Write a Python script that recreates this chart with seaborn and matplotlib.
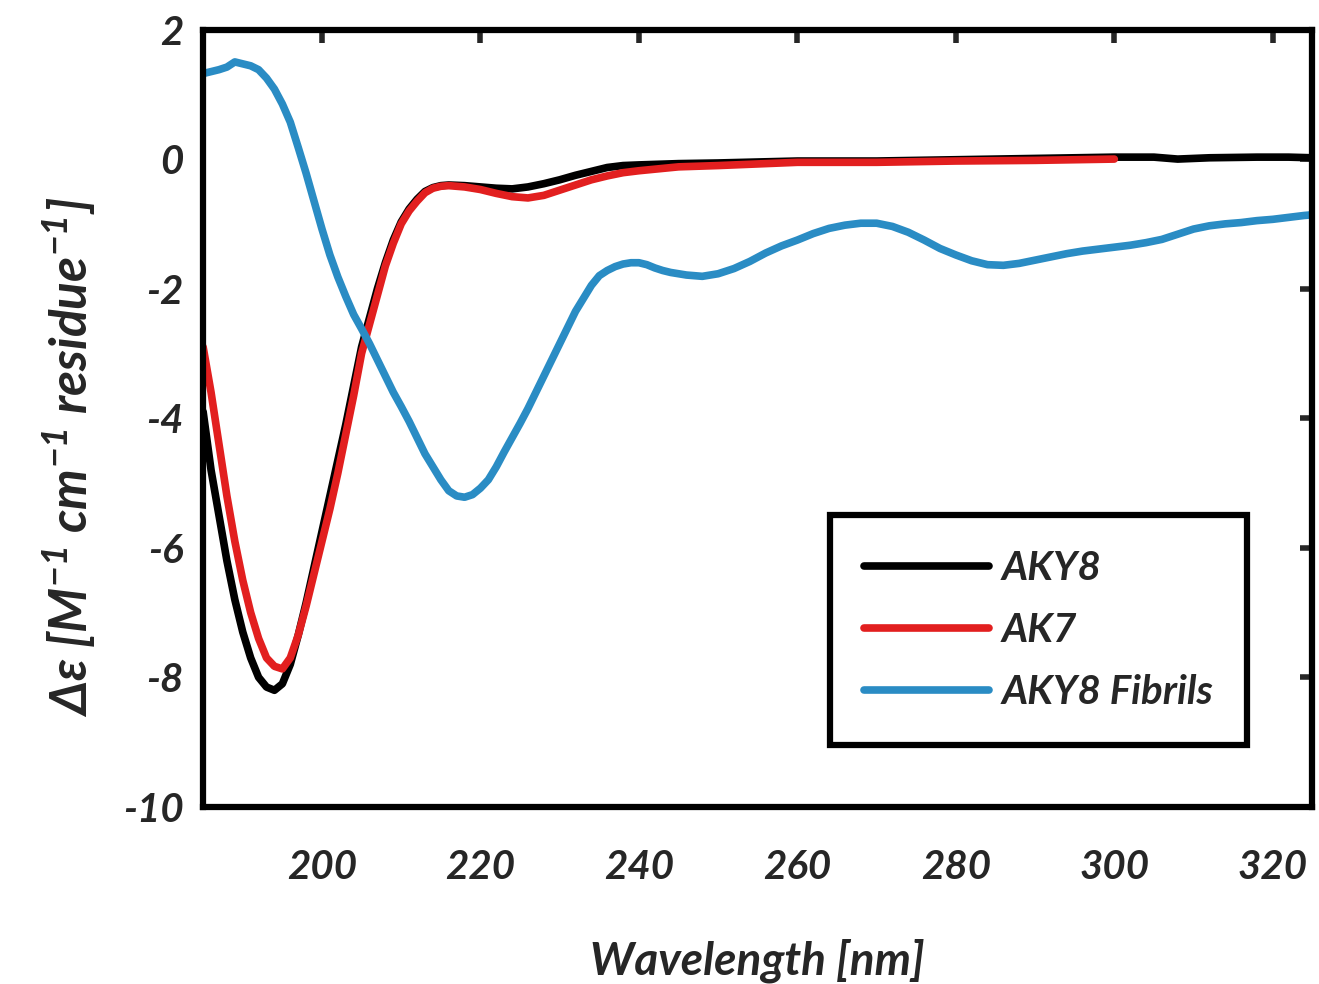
import matplotlib
matplotlib.use("Agg")
import matplotlib.pyplot as plt
import seaborn as sns

# CD spectra (wavelength in nm, delta-epsilon)
aky8_wl = [185, 186, 187, 188, 189, 190, 191, 192, 193, 194, 195, 196, 197, 198, 199,
           200, 201, 202, 203, 204, 205, 206, 207, 208, 209, 210, 211, 212, 213, 214,
           215, 216, 218, 220, 222, 224, 226, 228, 230, 232, 234, 236, 238, 240, 245,
           250, 260, 270, 280, 290, 300, 305, 308, 312, 318, 322, 325]
aky8_de = [-3.9, -4.8, -5.5, -6.2, -6.8, -7.3, -7.7, -8.0, -8.15, -8.2, -8.1, -7.8, -7.35, -6.85, -6.3,
           -5.75, -5.2, -4.65, -4.1, -3.5, -2.9, -2.45, -2.0, -1.6, -1.25, -0.97, -0.77, -0.62, -0.5, -0.44,
           -0.41, -0.4, -0.41, -0.43, -0.45, -0.46, -0.43, -0.38, -0.32, -0.25, -0.19, -0.13, -0.1, -0.09, -0.07,
           -0.06, -0.03, -0.03, -0.01, 0.01, 0.03, 0.03, 0.0, 0.02, 0.03, 0.03, 0.02]

ak7_wl = [185, 186, 187, 188, 189, 190, 191, 192, 193, 194, 195, 196, 197, 198, 199,
          200, 201, 202, 203, 204, 205, 206, 207, 208, 209, 210, 211, 212, 213, 214,
          215, 216, 218, 220, 222, 224, 226, 228, 230, 232, 234, 236, 238, 240, 245,
          250, 260, 270, 280, 290, 300]
ak7_de = [-2.9, -3.6, -4.4, -5.2, -5.9, -6.5, -7.0, -7.4, -7.7, -7.83, -7.87, -7.7, -7.35, -6.9, -6.4,
          -5.9, -5.4, -4.85, -4.25, -3.65, -3.0, -2.55, -2.1, -1.65, -1.3, -1.0, -0.8, -0.65, -0.52, -0.45,
          -0.42, -0.41, -0.43, -0.47, -0.53, -0.58, -0.6, -0.56, -0.48, -0.4, -0.32, -0.26, -0.21, -0.18, -0.12,
          -0.1, -0.05, -0.05, -0.03, -0.02, 0.0]

fib_wl = [185, 186, 187, 188, 189, 190, 191, 192, 193, 194, 195, 196, 197, 198, 199,
          200, 201, 202, 203, 204, 205, 206, 207, 208, 209, 210, 211, 212, 213, 214,
          215, 216, 217, 218, 219, 220, 221, 222, 223, 224, 225, 226, 227, 228, 229,
          230, 231, 232, 233, 234, 235, 236, 237, 238, 239, 240, 241, 242, 243, 244,
          246, 248, 250, 252, 254, 256, 258, 260, 262, 264, 266, 268, 270, 272, 274,
          276, 278, 280, 282, 284, 286, 288, 290, 292, 294, 296, 298, 300, 302, 304,
          306, 308, 310, 312, 314, 316, 318, 320, 322, 324, 325]
fib_de = [1.32, 1.35, 1.38, 1.42, 1.5, 1.47, 1.44, 1.38, 1.25, 1.08, 0.85, 0.57, 0.18, -0.22, -0.65,
          -1.08, -1.48, -1.82, -2.12, -2.4, -2.62, -2.85, -3.1, -3.35, -3.6, -3.82, -4.05, -4.3, -4.55, -4.75,
          -4.95, -5.12, -5.2, -5.22, -5.18, -5.08, -4.95, -4.75, -4.52, -4.3, -4.08, -3.85, -3.6, -3.35, -3.1,
          -2.85, -2.6, -2.35, -2.15, -1.95, -1.8, -1.72, -1.66, -1.62, -1.6, -1.6, -1.63, -1.68, -1.72, -1.75,
          -1.79, -1.81, -1.77, -1.69, -1.58, -1.45, -1.34, -1.25, -1.15, -1.07, -1.02, -0.99, -0.99, -1.04, -1.13,
          -1.25, -1.38, -1.48, -1.57, -1.63, -1.64, -1.61, -1.56, -1.51, -1.46, -1.42, -1.39, -1.36, -1.33, -1.29,
          -1.24, -1.16, -1.08, -1.03, -1.0, -0.98, -0.95, -0.93, -0.9, -0.87, -0.86]

x_ticks = [200, 220, 240, 260, 280, 300, 320]
y_ticks = [-10, -8, -6, -4, -2, 0, 2]

sns.set_style("white")
plt.rcParams['font.family'] = ['Lato', 'DejaVu Sans']
plt.rcParams['font.weight'] = 'bold'
plt.rcParams['font.style'] = 'italic'
plt.rcParams['axes.labelweight'] = 'bold'
plt.rcParams['axes.unicode_minus'] = False
plt.rcParams['mathtext.fontset'] = 'custom'
plt.rcParams['mathtext.rm'] = 'Lato:italic:bold'
plt.rcParams['mathtext.it'] = 'Lato:italic:bold'
plt.rcParams['mathtext.bf'] = 'Lato:italic:bold'
plt.rcParams['mathtext.default'] = 'it'

fig = plt.figure(figsize=(13.19, 9.84), dpi=100)
ax = fig.add_axes([0.154, 0.180, 0.841, 0.790])

sns.lineplot(x=aky8_wl, y=aky8_de, color='black', lw=5.5, label='AKY8', ax=ax)
sns.lineplot(x=ak7_wl, y=ak7_de, color='#e21f1f', lw=5.5, label='AK7', ax=ax)
sns.lineplot(x=fib_wl, y=fib_de, color='#2a8cc4', lw=5.5, label='AKY8 Fibrils', ax=ax)

ax.set_xlim(185, 325)
ax.set_ylim(-10, 2)
ax.set_xticks(x_ticks)
ax.set_yticks(y_ticks)
ax.tick_params(direction='in', length=9, width=4, labelsize=29, top=True, right=True)
ax.tick_params(axis='x', pad=30)
ax.tick_params(axis='y', pad=14)
for s in ax.spines.values():
    s.set_linewidth(4.5)
    s.set_color('black')

ax.set_xlabel('Wavelength [nm]', fontsize=33, labelpad=38)
ax.set_ylabel(r'$\Delta\varepsilon$ [M$^{-1}$ cm$^{-1}$ residue$^{-1}$]', fontsize=37)
ax.yaxis.set_label_coords(-0.095, 0.45)

leg = ax.legend(loc='lower right', bbox_to_anchor=(0.9414, 0.0798), borderaxespad=0,
                fontsize=29, handlelength=3.1, labelspacing=0.62, handletextpad=0.3,
                borderpad=0.85, fancybox=False, framealpha=1)
leg.get_frame().set_edgecolor('black')
leg.get_frame().set_linewidth(4.5)

fig.savefig('out.png', dpi=100)
